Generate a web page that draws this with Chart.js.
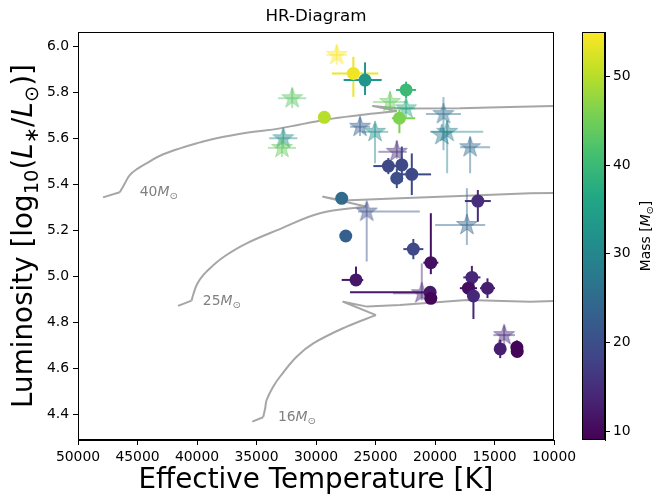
<!DOCTYPE html>
<html><head><meta charset="utf-8">
<script src="https://cdn.jsdelivr.net/npm/chart.js@4.4.1/dist/chart.umd.min.js"></script>
<style>
html,body{margin:0;padding:0;background:#fff;}
#wrap{position:relative;width:653px;height:497px;background:#fff;}
canvas{position:absolute;left:0;top:0;}
</style></head><body>
<div id="wrap"><canvas id="main" width="653" height="497"></canvas><canvas id="cbar" width="653" height="497"></canvas></div>
<script>
// ---------- DATA ----------
const xTicks = [50000,45000,40000,35000,30000,25000,20000,15000,10000];
const yTicks = [4.4,4.6,4.8,5.0,5.2,5.4,5.6,5.8,6.0];
const cbTicks = [10,20,30,40,50];

// evolutionary tracks (ZAMS start, main sequence, hook, crossing)
const track40T = [47900,46490,46070,45650,44950,44250,43150,41440,39760,38640,35830,33030,29100,26300,23190,25210,22940,17890,12840,10000];
const track40L = [5.342,5.364,5.402,5.439,5.468,5.490,5.522,5.555,5.581,5.596,5.623,5.642,5.681,5.700,5.717,5.739,5.728,5.729,5.736,5.739];
const track40Tams = 14;
const track25T = [41590,40460,40300,39990,39480,38720,37650,35830,33030,29670,25800,29410,27730,22940,17320,12000,10000];
const track25L = [4.870,4.893,4.922,4.965,5.004,5.043,5.087,5.142,5.204,5.273,5.302,5.345,5.328,5.338,5.349,5.360,5.361];
const track25Tams = 10;
const track16T = [35360,34440,34270,34150,33600,33030,31630,30230,27420,24960,27710,25710,22940,17320,12000,10000];
const track16L = [4.367,4.386,4.425,4.461,4.519,4.562,4.649,4.707,4.780,4.830,4.888,4.867,4.874,4.896,4.888,4.891];
const track16Tams = 9;
const trackNames = ['40','25','16'];

// circles (filled markers)
const circT   = [26860,25880,22430,22990,29300,23920,22790,23210,21950,27840,27500,26640,21820,16400,20350,20410,20350,16900,17190,16770,15590,14520,13120,13090];
const circL   = [5.881,5.852,5.809,5.686,5.690,5.478,5.483,5.425,5.442,5.338,5.174,4.983,5.117,5.326,5.058,4.929,4.903,4.994,4.947,4.913,4.947,4.683,4.690,4.672];
const circM   = [54,33,40,46,50,19,19,20,19,25,23,12,19,15,11,12,9.5,14,10.5,14,13,13,9.5,9.5];
const circTHi = [1800,1800,840,640,0,1260,420,500,980,0,0,1200,840,1090,630,6730,0,720,720,400,630,460,0,0];
const circTLo = [2100,1400,840,1320,0,980,420,500,1620,0,0,610,840,1090,630,0,0,720,720,400,630,460,0,0];
const circLUp = [0.072,0.077,0.036,0.036,0,0.035,0.080,0.043,0.091,0,0,0.058,0.044,0.048,0.215,0,0,0.050,0,0.100,0.043,0.040,0.030,0];
const circLDn = [0.102,0.065,0.036,0.065,0,0.035,0.073,0.043,0.090,0,0,0.022,0.044,0.090,0.050,0,0,0.050,0,0.100,0.043,0.040,0.040,0];

// stars (translucent markers)
const starT   = [28260,32000,32750,32860,23780,22430,26300,25040,19290,18980,19430,17050,23210,25740,17320,21110,14190];
const starL   = [5.961,5.773,5.599,5.557,5.757,5.729,5.649,5.627,5.704,5.627,5.613,5.560,5.540,5.280,5.222,4.925,4.743];
const starM   = [55,43,31,44,44,37,23,31,26,30,28,25,15,20,24,14,14];
const starTHi = [870,1180,1180,1180,1430,760,840,1100,1470,1430,0,840,1550,730,2670,2410,910];
const starTLo = [870,1180,1180,1180,1430,760,840,1100,1470,3030,0,1680,840,4460,1540,420,910];
const starLUp = [0.043,0.043,0.040,0.040,0.043,0.040,0.040,0.036,0.074,0.050,0,0.043,0.050,0.040,0.160,0.130,0.040];
const starLDn = [0.043,0.043,0.040,0.040,0.043,0.040,0.040,0.137,0.157,0.180,0,0.113,0.030,0.217,0.087,0.030,0.050];

// ---------- STYLE / CONFIG ----------
const massMin = 9, massMax = 55;
const STAR_ALPHA = 0.45;
const FONT = 'DejaVu Sans';
Chart.defaults.font.family = FONT;
Chart.defaults.color = '#000';

const VIR = ['#440154','#482475','#414487','#355f8d','#2a788e','#21918c','#22a884','#44bf70','#7ad151','#bddf26','#fde725'];
function hex2rgb(h){return [parseInt(h.slice(1,3),16),parseInt(h.slice(3,5),16),parseInt(h.slice(5,7),16)];}
function viridis(m,a){
  let t=(m-massMin)/(massMax-massMin); t=Math.max(0,Math.min(1,t));
  const f=t*10, i=Math.min(9,Math.floor(f)), u=f-i;
  const c0=hex2rgb(VIR[i]), c1=hex2rgb(VIR[i+1]);
  const c=c0.map((v,k)=>Math.round(v+(c1[k]-v)*u));
  return `rgba(${c[0]},${c[1]},${c[2]},${a===undefined?1:a})`;
}
function starCanvas(color){
  const R=11, s=26, c=document.createElement('canvas'); c.width=s; c.height=s;
  const g=c.getContext('2d'); g.fillStyle=color; g.strokeStyle=color; g.lineWidth=1; g.lineJoin='miter';
  g.beginPath();
  for(let k=0;k<10;k++){const r=k%2?R*0.382:R; const a=-Math.PI/2+k*Math.PI/5;
    const px=s/2+r*Math.cos(a), py=s/2+r*Math.sin(a); k?g.lineTo(px,py):g.moveTo(px,py);}
  g.closePath(); g.fill(); g.stroke(); return c;
}
function drawRich(ctx,parts,x,y,rot,color,size,align){
  ctx.save(); ctx.translate(x,y); ctx.rotate(rot); ctx.fillStyle=color; ctx.textBaseline='alphabetic';
  const ms=[]; let total=0;
  for(const p of parts){const sz=p.sub?size*0.7:size; ctx.font=(p.it?'italic ':'')+sz+'px "'+FONT+'"';
    const w=ctx.measureText(p.t).width; ms.push({sz,w}); total+=w;}
  let cx = align==='left'?0:-total/2;
  parts.forEach((p,i)=>{ctx.font=(p.it?'italic ':'')+ms[i].sz+'px "'+FONT+'"';
    ctx.fillText(p.t,cx,size*0.36+(p.sub?size*0.22:0)); cx+=ms[i].w;});
  ctx.restore();
}

const circData = circT.map((t,i)=>({x:t,y:circL[i]}));
const starData = starT.map((t,i)=>({x:t,y:starL[i]}));
const circColors = circM.map(m=>viridis(m,1));
const starColors = starM.map(m=>viridis(m,STAR_ALPHA));
const starImgs = starColors.map(c=>starCanvas(c));
const trackColor = '#a6a6a6';
const seg = (T,L,i0,i1,tension)=>({type:'scatter',data:T.slice(i0,i1+1).map((t,k)=>({x:t,y:L[i0+k]})),showLine:true,
  borderColor:trackColor,borderWidth:2,pointRadius:0,fill:false,tension:tension,order:2,borderJoinStyle:'round'});
function trackSets(T,L,tams){
  return [seg(T,L,0,1,0), seg(T,L,1,tams,0.4), seg(T,L,tams,T.length-1,0)];
}

// track label anchor positions (data coords)
const labelPosT = [44810,39510,33200];
const labelPosL = [5.370,4.896,4.391];

const errPlugin = {id:'errbars', beforeDatasetDraw(chart,args){
  const ds=chart.data.datasets[args.index]; if(!ds.errs) return;
  const xs=chart.scales.x, ys=chart.scales.y, ctx=chart.ctx, ca=chart.chartArea, e=ds.errs;
  ctx.save(); ctx.beginPath(); ctx.rect(ca.left,ca.top,ca.right-ca.left,ca.bottom-ca.top); ctx.clip();
  ctx.lineWidth=2; ctx.lineCap='butt';
  ds.data.forEach((p,i)=>{
    ctx.strokeStyle=ds.errColor[i];
    const px=xs.getPixelForValue(p.x), py=ys.getPixelForValue(p.y);
    if(e.tHi[i]||e.tLo[i]){ctx.beginPath();ctx.moveTo(xs.getPixelForValue(p.x+e.tHi[i]),py);ctx.lineTo(xs.getPixelForValue(p.x-e.tLo[i]),py);ctx.stroke();}
    if(e.lUp[i]||e.lDn[i]){ctx.beginPath();ctx.moveTo(px,ys.getPixelForValue(p.y+e.lUp[i]));ctx.lineTo(px,ys.getPixelForValue(p.y-e.lDn[i]));ctx.stroke();}
  });
  ctx.restore();
}};
const framePlugin = {id:'frame', afterDatasetsDraw(chart){
  const ctx=chart.ctx, ca=chart.chartArea;
  ctx.save(); ctx.strokeStyle='#000'; ctx.lineWidth=1;
  ctx.strokeRect(Math.round(ca.left)+0.5,Math.round(ca.top)+0.5,Math.round(ca.right-ca.left)-1,Math.round(ca.bottom-ca.top)-1);
  ctx.restore();
}};
const labelPlugin = {id:'labels', afterDraw(chart){
  const ctx=chart.ctx, xs=chart.scales.x, ys=chart.scales.y, ca=chart.chartArea;
  trackNames.forEach((n,i)=>{
    drawRich(ctx,[{t:n},{t:'M',it:1},{t:'⊙',sub:1}],xs.getPixelForValue(labelPosT[i]),ys.getPixelForValue(labelPosL[i]),0,'#808080',13.9,'left');
  });
  drawRich(ctx,[{t:'Luminosity [log'},{t:'10',sub:1},{t:'('},{t:'L',it:1},{t:'∗',sub:1},{t:'/'},{t:'L',it:1},{t:'⊙',sub:1},{t:')]'}],
    22,(ca.top+ca.bottom)/2,-Math.PI/2,'#000',27.8);
}};

new Chart(document.getElementById('main'),{
  type:'scatter',
  data:{datasets:[
    {label:'circles',data:circData,pointStyle:'circle',pointRadius:6.5,pointBackgroundColor:circColors,pointBorderWidth:0,pointBorderColor:circColors,order:0,
     errs:{tHi:circTHi,tLo:circTLo,lUp:circLUp,lDn:circLDn},errColor:circColors},
    {label:'stars',data:starData,pointStyle:(c)=>starImgs[c.dataIndex],pointRadius:11,order:1,
     errs:{tHi:starTHi,tLo:starTLo,lUp:starLUp,lDn:starLDn},errColor:starColors},
    ...trackSets(track40T,track40L,track40Tams),
    ...trackSets(track25T,track25L,track25Tams),
    ...trackSets(track16T,track16L,track16Tams)
  ]},
  options:{
    responsive:false,animation:false,devicePixelRatio:1,
    layout:{padding:{left:0,right:99,top:0,bottom:0}},
    plugins:{legend:{display:false},tooltip:{enabled:false},
      title:{display:true,text:'HR-Diagram',fullSize:false,color:'#000',font:{size:16.7,weight:'normal'},padding:{top:7,bottom:4.96}}},
    scales:{
      x:{type:'linear',reverse:true,min:10000,max:50000,
        afterBuildTicks:s=>{s.ticks=xTicks.map(v=>({value:v}));},
        ticks:{callback:v=>String(v),font:{size:13.9},color:'#000',padding:4,maxRotation:0,autoSkip:false},
        grid:{drawOnChartArea:false,tickLength:5,color:'#000'},border:{color:'#000',width:1},
        title:{display:true,text:'Effective Temperature [K]',font:{size:27.8},color:'#000',padding:{top:0,bottom:0}},
        afterFit:s=>{s.height=57;}},
      y:{type:'linear',min:4.287,max:6.061,
        afterBuildTicks:s=>{s.ticks=yTicks.map(v=>({value:v}));},
        ticks:{callback:v=>v.toFixed(1),font:{size:13.9},color:'#000',padding:4,autoSkip:false},
        grid:{drawOnChartArea:false,tickLength:5,color:'#000'},border:{color:'#000',width:1},
        afterFit:s=>{s.width=78;}}
    }
  },
  plugins:[errPlugin,framePlugin,labelPlugin]
});

// ---------- COLORBAR ----------
const cbOutline = {id:'cbo', afterDraw(chart){
  const ctx=chart.ctx, ca=chart.chartArea;
  ctx.save(); ctx.strokeStyle='#000'; ctx.lineWidth=1;
  ctx.strokeRect(Math.round(ca.left)+0.5,Math.round(ca.top)+0.5,Math.round(ca.right-ca.left)-1,Math.round(ca.bottom-ca.top)-1);
  ctx.restore();
  drawRich(ctx,[{t:'Mass ['},{t:'M',it:1},{t:'⊙',sub:1},{t:']'}],645,(ca.top+ca.bottom)/2,-Math.PI/2,'#000',13.9);
}};
new Chart(document.getElementById('cbar'),{
  type:'bar',
  data:{labels:['Mass'],datasets:[{data:[[massMin,massMax]],borderWidth:0,barPercentage:1,categoryPercentage:1,
    backgroundColor:(c)=>{const ca=c.chart.chartArea; if(!ca) return '#000';
      const g=c.chart.ctx.createLinearGradient(0,ca.bottom,0,ca.top);
      VIR.forEach((h,i)=>g.addColorStop(i/10,h)); return g;}}]},
  options:{responsive:false,animation:false,devicePixelRatio:1,
    layout:{padding:{left:582,right:0,top:32,bottom:57}},
    plugins:{legend:{display:false},tooltip:{enabled:false}},
    scales:{x:{display:false},
      y:{position:'right',min:massMin,max:massMax,
        afterBuildTicks:s=>{s.ticks=cbTicks.map(v=>({value:v}));},
        ticks:{font:{size:13.9},color:'#000',padding:3},
        grid:{drawOnChartArea:false,tickLength:5,color:'#000'},border:{color:'#000',width:1},
        afterFit:s=>{s.width=48;}}}
  },
  plugins:[cbOutline]
});
</script>
</body></html>
